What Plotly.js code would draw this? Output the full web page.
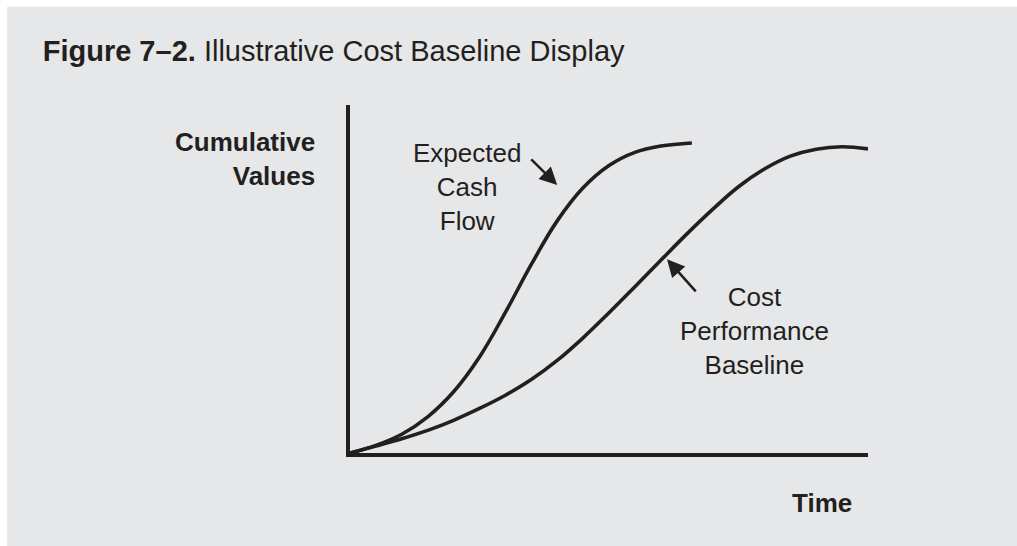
<!DOCTYPE html>
<html>
<head>
<meta charset="utf-8">
<script src="https://cdn.plot.ly/plotly-3.0.1.min.js"></script>
<style>html,body{margin:0;padding:0;background:#fff;}#chart{width:1017px;height:546px;}</style>
</head>
<body>
<div id="chart"></div>
<script>
// Time axis (arbitrary units 0-100) and cumulative values (0-100)
const cashFlowTime   = [0, 5, 10, 15, 20, 25, 30, 35, 40, 45, 50, 55, 60, 66];
const cashFlowValue  = [0, 2.2, 5.4, 10.4, 17.6, 27.6, 40.4, 54.2, 66.7, 76.2, 82.6, 86.4, 88.2, 89.1];
const baselineTime   = [0, 5, 10, 15, 20, 25, 30, 35, 40, 45, 50, 55, 60, 65, 70, 75, 80, 85, 90, 95, 100];
const baselineValue  = [0, 2.0, 4.1, 6.5, 9.4, 12.8, 16.6, 21.1, 26.6, 33.1, 40.3, 47.8, 55.4, 62.9, 70.0, 76.5, 81.6, 85.3, 87.3, 88.0, 87.4];

const titleBold = "Figure 7–2.";
const titleRest = "Illustrative Cost Baseline Display";
const yLabel = "Cumulative<br>Values";
const xLabel = "Time";
const cashLabel = "Expected<br>Cash<br>Flow";
const baseLabel = "Cost<br>Performance<br>Baseline";

const ink = "#231f20";
const bg = "#e6e7e8";
const font = "'Liberation Sans', Arial, Helvetica, sans-serif";

const traces = [
  {x: cashFlowTime, y: cashFlowValue, mode: "lines", line: {color: ink, width: 3.6, shape: "spline", smoothing: 1.1}, hoverinfo: "skip", showlegend: false},
  {x: baselineTime, y: baselineValue, mode: "lines", line: {color: ink, width: 3.6, shape: "spline", smoothing: 1.1}, hoverinfo: "skip", showlegend: false}
];

const annotations = [
  {xref: "x", yref: "y", x: 22.6, y: 76.4, text: cashLabel, showarrow: false, align: "center", xanchor: "center", yanchor: "middle", font: {family: font, size: 26, color: ink}},
  {xref: "x", yref: "y", x: 78.0, y: 35.1, text: baseLabel, showarrow: false, align: "center", xanchor: "center", yanchor: "middle", font: {family: font, size: 26, color: ink}},
  {xref: "paper", yref: "y", x: -0.0637, y: 84.6, text: "<b>" + yLabel + "</b>", showarrow: false, align: "right", xanchor: "right", yanchor: "middle", font: {family: font, size: 26, color: ink}},
  {xref: "paper", yref: "paper", x: 0.911, y: -0.144, text: "<b>" + xLabel + "</b>", showarrow: false, xanchor: "center", yanchor: "middle", font: {family: font, size: 26, color: ink}},
  // arrows
  {xref: "x", yref: "y", axref: "x", ayref: "y", x: 40.0, y: 77.0, ax: 34.7, ay: 84.8, text: "", showarrow: true, arrowhead: 2, arrowsize: 1.35, arrowwidth: 2.6, arrowcolor: ink, standoff: 0, startstandoff: 0},
  {xref: "x", yref: "y", axref: "x", ayref: "y", x: 61.2, y: 55.7, ax: 67.0, ay: 46.0, text: "", showarrow: true, arrowhead: 2, arrowsize: 1.35, arrowwidth: 2.6, arrowcolor: ink, standoff: 0, startstandoff: 0}
];

const layout = {
  width: 1017, height: 546,
  margin: {l: 350, r: 149, t: 105, b: 93, pad: 0},
  paper_bgcolor: bg,
  plot_bgcolor: "rgba(0,0,0,0)",
  title: {
    text: "<b>" + titleBold + "</b> " + titleRest,
    xref: "container", yref: "container", x: 0.042, y: 0.907, xanchor: "left", yanchor: "middle",
    font: {family: font, size: 29, color: ink}
  },
  xaxis: {range: [0, 100], showline: true, linewidth: 4, linecolor: ink, showgrid: false, zeroline: false, showticklabels: false, ticks: "", fixedrange: true},
  yaxis: {range: [0, 100], showline: true, linewidth: 4, linecolor: ink, showgrid: false, zeroline: false, showticklabels: false, ticks: "", fixedrange: true},
  shapes: [
    {type: "rect", xref: "paper", yref: "paper", x0: -0.7, x1: 1.3, y0: 1.282, y1: 1.32, fillcolor: "#ffffff", line: {width: 0}, layer: "below"},
    {type: "rect", xref: "paper", yref: "paper", x0: -0.7, x1: -0.662, y0: -0.3, y1: 1.32, fillcolor: "#ffffff", line: {width: 0}, layer: "below"}
  ],
  annotations: annotations,
  showlegend: false
};

Plotly.newPlot("chart", traces, layout, {displayModeBar: false, staticPlot: true});
</script>
</body>
</html>
